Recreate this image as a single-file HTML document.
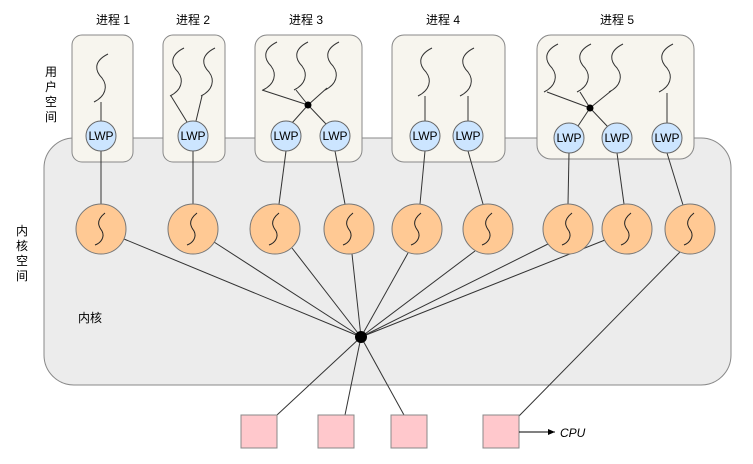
<!DOCTYPE html>
<html><head><meta charset="utf-8"><style>
body{margin:0;background:#fff}
svg text{font-family:"Liberation Sans","Noto Sans CJK SC",sans-serif;font-size:12px;fill:#000}
</style></head><body>
<svg width="753" height="459" viewBox="0 0 753 459" xmlns="http://www.w3.org/2000/svg">
<defs>
<path id="thr" d="M6,-24 C-10,-16 -6,-6 0,0 C6,8 4,18 -8,24" fill="none" stroke="#333" stroke-width="1"/>
<path id="sq" d="M4,-16 C-6,-8 -2,-2 1,2 C4,8 0,14 -6,16" fill="none" stroke="#222" stroke-width="1"/>
<marker id="ar" markerWidth="8" markerHeight="8" refX="7" refY="4" orient="auto"><path d="M0,1 L7,4 L0,7 Z" fill="#000"/></marker>
</defs>
<rect x="44" y="138" width="687" height="247" rx="30" fill="#ececec" stroke="#888"/>
<g fill="#f7f5ee" stroke="#888">
<rect x="72" y="35" width="61" height="127" rx="10"/>
<rect x="163" y="35" width="62" height="127" rx="10"/>
<rect x="255" y="35" width="107" height="127" rx="12"/>
<rect x="392" y="35" width="113" height="127" rx="12"/>
<rect x="537" y="35" width="157" height="124" rx="14"/>
</g>
<g text-anchor="middle">
<text x="113" y="24">进程 1</text><text x="193" y="24">进程 2</text><text x="306" y="24">进程 3</text>
<text x="443" y="24">进程 4</text><text x="617" y="24">进程 5</text>
</g>
<text x="51" y="76" text-anchor="middle">用</text><text x="51" y="91" text-anchor="middle">户</text>
<text x="51" y="106" text-anchor="middle">空</text><text x="51" y="121" text-anchor="middle">间</text>
<text x="22" y="235" text-anchor="middle">内</text><text x="22" y="250" text-anchor="middle">核</text>
<text x="22" y="265" text-anchor="middle">空</text><text x="22" y="280" text-anchor="middle">间</text>
<text x="78" y="322">内核</text>
<!-- threads -->
<g>
<use href="#thr" x="102" y="78"/>
<use href="#thr" x="178" y="72"/><use href="#thr" x="209" y="72"/>
<use href="#thr" x="271" y="66"/><use href="#thr" x="302" y="66"/><use href="#thr" x="333" y="66"/>
<use href="#thr" x="426" y="72"/><use href="#thr" x="468" y="72"/>
<use href="#thr" x="552" y="68"/><use href="#thr" x="585" y="68"/><use href="#thr" x="617" y="68"/><use href="#thr" x="667" y="68"/>
</g>
<g stroke="#333" stroke-width="1" fill="none">
<line x1="101" y1="102" x2="101" y2="121"/>
<line x1="171" y1="96" x2="187" y2="122"/><line x1="202" y1="96" x2="196" y2="121"/>
<line x1="262" y1="90" x2="308" y2="105"/><line x1="296" y1="90" x2="308" y2="105"/><line x1="327" y1="88" x2="308" y2="105"/>
<line x1="308" y1="105" x2="292" y2="123"/><line x1="308" y1="105" x2="326" y2="124"/>
<line x1="425" y1="96" x2="425" y2="121"/><line x1="468" y1="96" x2="468" y2="121"/>
<line x1="547" y1="92" x2="590" y2="108"/><line x1="580" y1="92" x2="590" y2="108"/><line x1="611" y1="91" x2="590" y2="108"/>
<line x1="590" y1="108" x2="578" y2="126"/><line x1="590" y1="108" x2="608" y2="127"/>
<line x1="667" y1="93" x2="667" y2="123"/>
<!-- LWP to kernel threads -->
<line x1="101" y1="151" x2="101" y2="204"/><line x1="193" y1="151" x2="193" y2="204"/>
<line x1="286" y1="151" x2="279" y2="204"/><line x1="335" y1="151" x2="345" y2="204"/>
<line x1="425" y1="151" x2="420" y2="204"/><line x1="468" y1="151" x2="483" y2="204"/>
<line x1="569" y1="153" x2="568" y2="204"/><line x1="617" y1="153" x2="624" y2="204"/>
<line x1="667" y1="153" x2="683" y2="205"/>
<!-- to hub -->
<line x1="124" y1="239" x2="361" y2="337"/><line x1="214" y1="242" x2="361" y2="337"/>
<line x1="292" y1="248" x2="361" y2="337"/><line x1="352" y1="254" x2="361" y2="337"/>
<line x1="408" y1="253" x2="361" y2="337"/><line x1="475" y1="251" x2="361" y2="337"/>
<line x1="548" y1="244" x2="361" y2="337"/><line x1="605" y1="240" x2="361" y2="337"/>
<line x1="361" y1="337" x2="277" y2="415"/><line x1="361" y1="337" x2="345" y2="415"/>
<line x1="361" y1="337" x2="404" y2="415"/>
<line x1="680" y1="252" x2="519" y2="416"/>
</g>
<circle cx="308" cy="105" r="3.5"/><circle cx="590" cy="108" r="3.5"/>
<circle cx="361" cy="337" r="6"/>
<g fill="#cce5ff" stroke="#666">
<circle cx="101" cy="136" r="15"/><circle cx="193" cy="136" r="15"/>
<circle cx="286" cy="136" r="15"/><circle cx="335" cy="136" r="15"/>
<circle cx="425" cy="136" r="15"/><circle cx="468" cy="136" r="15"/>
<circle cx="569" cy="138" r="15"/><circle cx="617" cy="138" r="15"/><circle cx="667" cy="138" r="15"/>
</g>
<g text-anchor="middle" font-size="11">
<text x="101" y="140">LWP</text><text x="193" y="140">LWP</text><text x="286" y="140">LWP</text><text x="335" y="140">LWP</text>
<text x="425" y="140">LWP</text><text x="468" y="140">LWP</text><text x="569" y="142">LWP</text><text x="617" y="142">LWP</text><text x="667" y="142">LWP</text>
</g>
<g fill="#ffc994" stroke="#777">
<circle cx="101" cy="229" r="25"/><circle cx="193" cy="229" r="25"/><circle cx="275" cy="229" r="25"/>
<circle cx="349" cy="229" r="25"/><circle cx="417" cy="229" r="25"/><circle cx="488" cy="229" r="25"/>
<circle cx="568" cy="229" r="25"/><circle cx="627" cy="229" r="25"/><circle cx="690" cy="229" r="25"/>
</g>
<g>
<use href="#sq" x="101" y="229"/><use href="#sq" x="193" y="229"/><use href="#sq" x="275" y="229"/>
<use href="#sq" x="349" y="229"/><use href="#sq" x="417" y="229"/><use href="#sq" x="488" y="229"/>
<use href="#sq" x="568" y="229"/><use href="#sq" x="627" y="229"/><use href="#sq" x="690" y="229"/>
</g>
<g fill="#ffc8cc" stroke="#888">
<rect x="241" y="415" width="36" height="33"/><rect x="318" y="415" width="36" height="33"/>
<rect x="391" y="415" width="36" height="33"/><rect x="483" y="415" width="36" height="33"/>
</g>
<line x1="519" y1="432" x2="555" y2="432" stroke="#000" marker-end="url(#ar)"/>
<text x="560" y="437" font-style="italic">CPU</text>
</svg>
</body></html>
